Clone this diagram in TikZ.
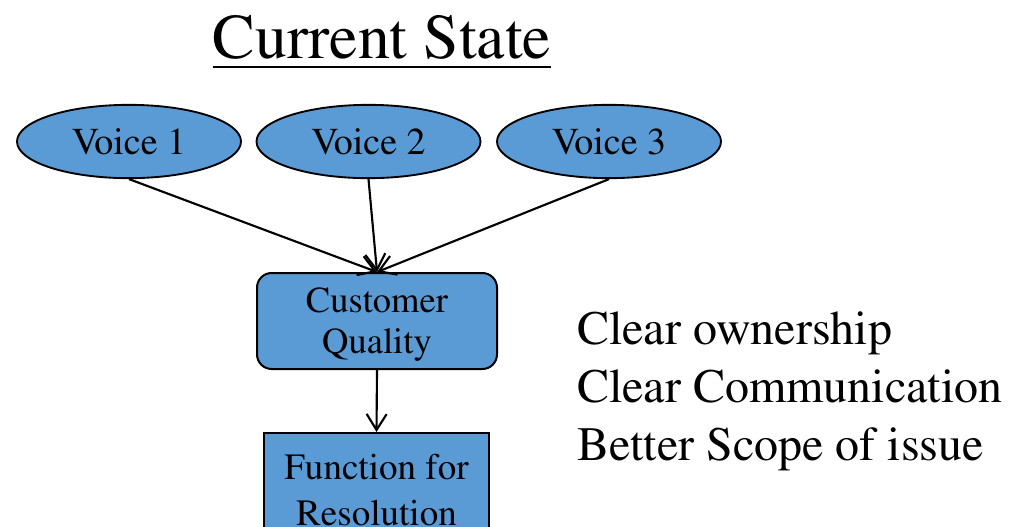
\documentclass[tikz,border=0pt]{standalone}
\usepackage[T1]{fontenc}
\usepackage{mathptmx}
\usetikzlibrary{shapes.geometric,arrows.meta}
\definecolor{fillblue}{HTML}{5B9BD5}
\begin{document}
\begin{tikzpicture}[x=0.75pt,y=-0.75pt,
  voice/.style={ellipse,draw=black,line width=1.4pt,fill=fillblue,minimum width=168pt,minimum height=55pt,inner sep=0pt,font=\fontsize{28.5}{31}\selectfont},
  cqbox/.style={rectangle,rounded corners=11pt,draw=black,line width=1.5pt,fill=fillblue,minimum width=180pt,minimum height=72pt,inner sep=0pt,align=center,text depth=1pt,font=\fontsize{27.4}{30.75}\selectfont},
  frbox/.style={rectangle,draw=black,line width=1.5pt,fill=fillblue,minimum width=169pt,minimum height=85pt,inner sep=0pt,align=center,font=\fontsize{27.8}{34.5}\selectfont},
  arr/.style={-{Straight Barb[length=12pt,width=15pt]},line width=1.6pt},
]
\useasboundingbox (0,0) rectangle (1012,526);
\node[anchor=base,font=\fontsize{47.8}{52}\selectfont,inner sep=0pt] (title) at (382,58) {Current State};
\draw[line width=1.5pt] ([yshift=-7pt]title.base west) -- ([yshift=-7pt]title.base east);
\node[voice] (v1) at (129,141.5) {Voice 1};
\node[voice] (v2) at (368.5,141.5) {Voice 2};
\node[voice] (v3) at (609,141.5) {Voice 3};
\node[cqbox] (cq) at (377,321) {Customer\\Quality};
\node[frbox,anchor=north] (fr) at (376.5,432) {Function for\\Resolution};
\draw[arr] (v1.south) -- (cq.north);
\draw[arr] (v2.south) -- (cq.north);
\draw[arr] (v3.south) -- (cq.north);
\draw[arr] (cq.south) -- (fr.north);
\node[anchor=base west,align=left,inner sep=0pt,font=\fontsize{36}{43.5}\selectfont] (notes) at (577,460) {Clear ownership\\Clear Communication\\Better Scope of issue};
\end{tikzpicture}
\end{document}
